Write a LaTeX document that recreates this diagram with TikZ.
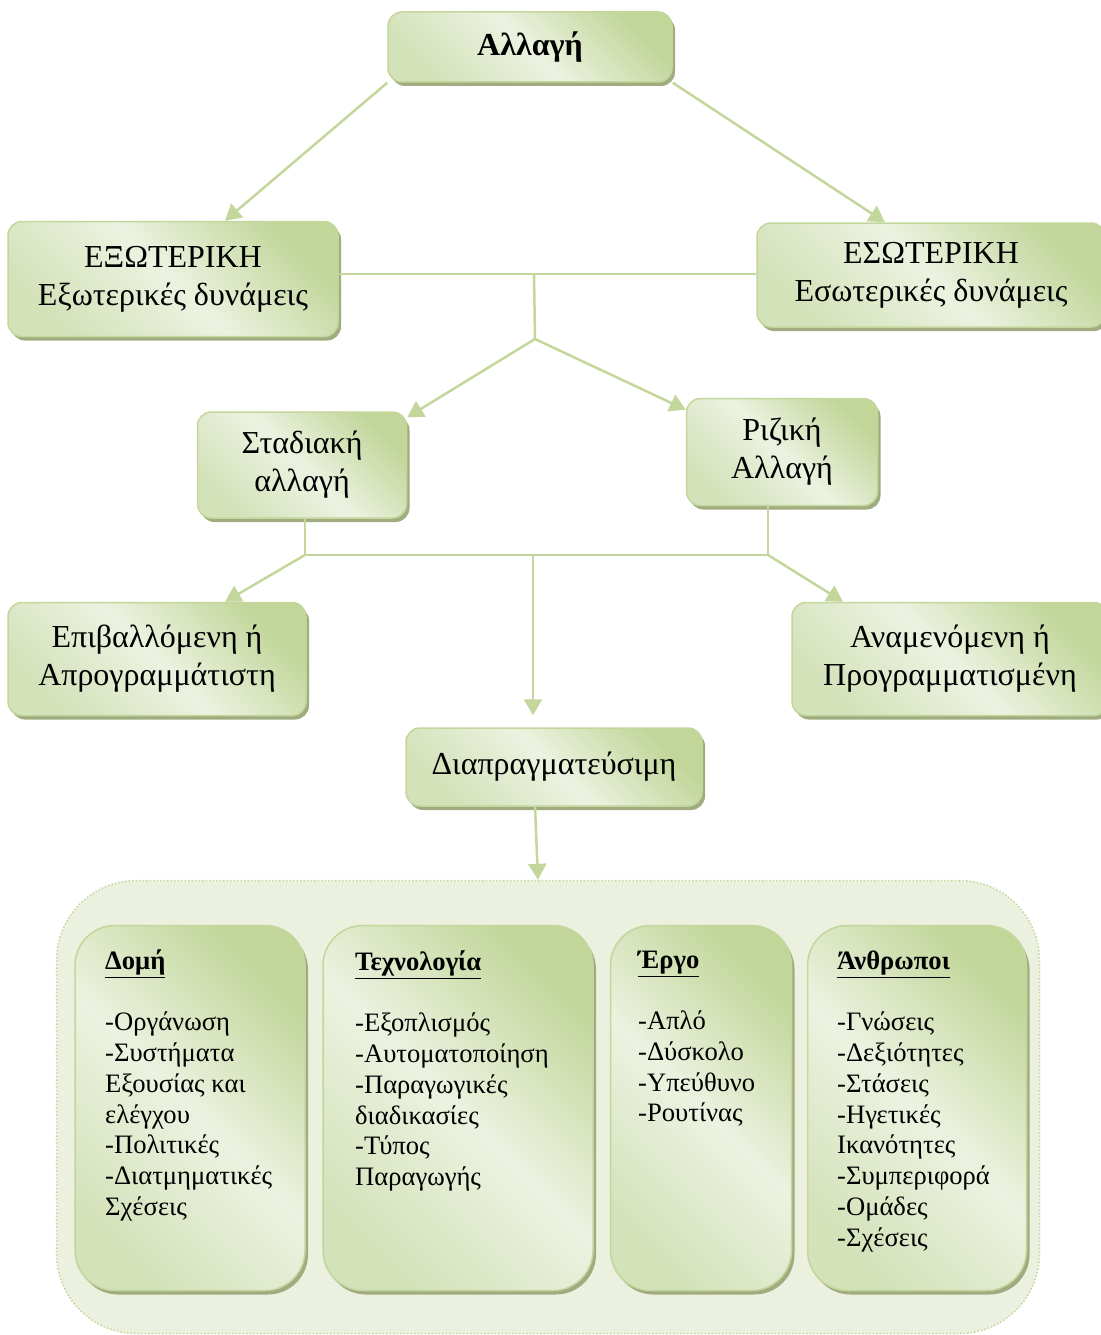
\documentclass[tikz,border=0pt]{standalone}
\usepackage{fontspec}
\setmainfont{Liberation Serif}
\usetikzlibrary{arrows.meta,positioning,shadows}
\definecolor{gline}{RGB}{195,214,155}
\definecolor{gdark}{RGB}{194,214,154}
\definecolor{gmid}{RGB}{212,226,186}
\definecolor{glight}{RGB}{236,242,224}
\definecolor{gshadow}{RGB}{160,172,128}
\definecolor{gouter}{RGB}{235,241,222}
\newcommand{\boxfont}{\fontsize{32}{38}\selectfont}
\newcommand{\listfont}{\fontsize{26.6}{30.8}\selectfont}

\begin{document}
\begin{tikzpicture}[x=1pt, y=-1pt,
  box/.style={rectangle, rounded corners=14pt, draw=gline, line width=1.5pt,
              top color=gdark, bottom color=gmid, middle color=glight,
              shading angle=-45,
              drop shadow={shadow xshift=3pt, shadow yshift=-4pt,
                           fill=gshadow, opacity=1},
              font=\boxfont, align=center, inner sep=0pt},
  colbox/.style={box, rounded corners=40pt},
  lst/.style={anchor=north west, align=left, inner sep=0pt, font=\listfont},
  conn/.style={draw=gline, line width=2.5pt},
  arr/.style={conn, -{Triangle[length=16pt,width=18pt]}}
]
  \useasboundingbox (0,0) rectangle (1100,1335);

  % upper part
  \node[box, font=\boxfont\bfseries, minimum width=284, minimum height=70]
    (allagi) at (530,47) {Αλλαγή};
  \node[box, minimum width=330, minimum height=115] (exo) at (173,279)
    {ΕΞΩΤΕΡΙΚΗ\\Εξωτερικές δυνάμεις};
  \node[box, minimum width=348, minimum height=104] (eso) at (931,275)
    {ΕΣΩΤΕΡΙΚΗ\\Εσωτερικές δυνάμεις};
  \node[box, minimum width=209, minimum height=106] (stad) at (302,465)
    {Σταδιακή\\αλλαγή};
  \node[box, minimum width=191, minimum height=107] (riz) at (782,452)
    {Ριζική\\Αλλαγή};
  \node[box, minimum width=298, minimum height=113] (epi) at (157,659)
    {Επιβαλλόμενη ή\\Απρογραμμάτιστη};
  \node[box, minimum width=316, minimum height=113] (anam) at (950,659)
    {Αναμενόμενη ή\\Προγραμματισμένη};
  \node[box, minimum width=296, minimum height=78] (diap) at (554,767)
    {Διαπραγματεύσιμη};

  \coordinate (j1) at (534,274);
  \coordinate (j2) at (535,339);
  \coordinate (j3) at (305,555);
  \coordinate (j4) at (768,555);
  \coordinate (j5) at (533,555);

  \draw[arr] (allagi.south west) -- ([xshift=52pt]exo.north);
  \draw[arr] (allagi.south east) -- ([xshift=-46pt]eso.north);
  \draw[conn] (j1 -| exo.east) -- (j1 -| eso.west);
  \draw[conn] (j1) -- (j2);
  \draw[arr] (j2) -- ([yshift=-6pt]stad.north east);
  \draw[arr] (j2) -- ([yshift=-12pt]riz.north west);
  \draw[conn] (j3 |- stad.south) -- (j3);
  \draw[conn] (j4 |- riz.south) -- (j4);
  \draw[conn] (j3) -- (j4);
  \draw[arr] (j3) -- ([xshift=68pt]epi.north);
  \draw[arr] (j4) -- ([xshift=-107pt]anam.north);
  \draw[arr, shorten >=12pt] (j5) -- (j5 |- diap.north);

  % lower part
  \node[draw=gline, dotted, line width=1.5pt, fill=gouter, rounded corners=80pt,
        minimum width=983, minimum height=453] (outer) at (548,1107) {};
  \draw[arr] ([xshift=-19pt]diap.south) -- ([xshift=-10pt]outer.north);

  \node[colbox, minimum width=230, minimum height=365] (dom)  at (190,1108) {};
  \node[colbox, minimum width=270, minimum height=365] (tech) at (458,1108) {};
  \node[colbox, minimum width=181, minimum height=365] (erg)  at (701,1108) {};
  \node[colbox, minimum width=219, minimum height=365] (anth) at (917,1108) {};

  \node[lst] (domtxt) at (105,950)
    {\underline{\textbf{Δομή}}\\[30pt]-Οργάνωση\\-Συστήματα\\Εξουσίας και\\ελέγχου\\-Πολιτικές\\-Διατμηματικές\\Σχέσεις};
  \node[lst] (techtxt) at (355,951)
    {\underline{\textbf{Τεχνολογία}}\\[30pt]-Εξοπλισμός\\-Αυτοματοποίηση\\-Παραγωγικές\\διαδικασίες\\-Τύπος\\Παραγωγής};
  \node[lst] (ergtxt) at (638,951)
    {\underline{\textbf{Έργο}}\\[30pt]-Απλό\\-Δύσκολο\\-Υπεύθυνο\\-Ρουτίνας};
  \node[lst] (anthtxt) at (837,951)
    {\underline{\textbf{Άνθρωποι}}\\[30pt]-Γνώσεις\\-Δεξιότητες\\-Στάσεις\\-Ηγετικές\\Ικανότητες\\-Συμπεριφορά\\-Ομάδες\\-Σχέσεις};
\end{tikzpicture}
\end{document}
